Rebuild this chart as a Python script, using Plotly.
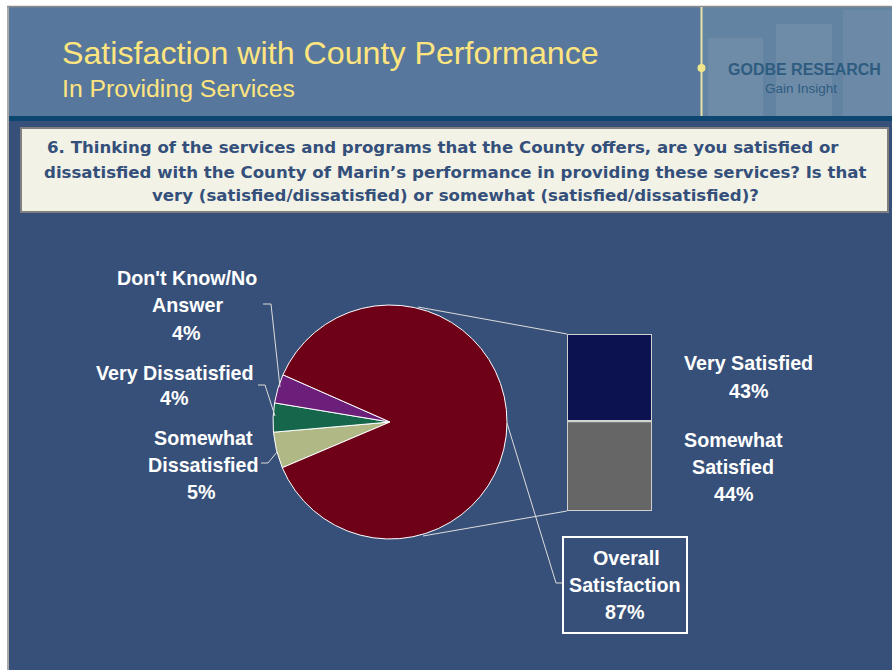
import plotly.graph_objects as go

W, H = 892, 670

# ---- data ----
pie_labels = ["Somewhat Dissatisfied", "Very Dissatisfied", "Don't Know/No Answer", "Overall Satisfaction"]
pie_values = [5, 4, 4, 87]
pie_colors = ["#B0B886", "#15664A", "#6B1F7B", "#6E0018"]

bar_labels = ["Somewhat Satisfied", "Very Satisfied"]
bar_values = [44, 43]
bar_colors = ["#666666", "#0B124F"]

title = "Satisfaction with County Performance"
subtitle = "In Providing Services"
question_lines = [
    "6. Thinking of the services and programs that the County offers, are you satisfied or",
    "dissatisfied with the County of Marin\u2019s performance in providing these services? Is that",
    "very (satisfied/dissatisfied) or somewhat (satisfied/dissatisfied)?",
]


def px(x):
    return x / W


def py(y):
    return 1 - y / H


FONT = "Liberation Sans, Arial, sans-serif"
QFONT = "DejaVu Sans, Verdana, sans-serif"

fig = go.Figure()

# pie
cx, cy, r = 390, 422, 117
fig.add_trace(go.Pie(
    labels=pie_labels, values=pie_values, sort=False, direction="clockwise",
    rotation=247, textinfo="none", hoverinfo="label+percent",
    marker=dict(colors=pie_colors, line=dict(color="white", width=1)),
    domain=dict(x=[px(cx - r), px(cx + r)], y=[py(cy + r), py(cy - r)]),
    showlegend=False,
))

# stacked bar
for lab, val, col in zip(bar_labels, bar_values, bar_colors):
    fig.add_trace(go.Bar(
        x=["Overall"], y=[val], name=lab, width=1, cliponaxis=False,
        marker=dict(color=col, line=dict(color="#D6D6D6", width=1.5)),
        showlegend=False, hoverinfo="name+y",
    ))

shapes = []


def rect(x0, y0, x1, y1, fill, line=None, lw=0, layer="below"):
    d = dict(type="rect", xref="paper", yref="paper", x0=px(x0), x1=px(x1),
             y0=py(y0), y1=py(y1), fillcolor=fill, layer=layer,
             line=dict(width=lw, color=line or "rgba(0,0,0,0)"))
    shapes.append(d)


def seg(pts, color="#DCDCDC", w=1, layer="above"):
    for (x0, y0), (x1, y1) in zip(pts[:-1], pts[1:]):
        shapes.append(dict(type="line", xref="paper", yref="paper",
                           x0=px(x0), y0=py(y0), x1=px(x1), y1=py(y1),
                           line=dict(color=color, width=w), layer=layer))


# backgrounds
rect(9, 7, W, 116, "#57789C")
rect(702, 7, W, 116, "#6383A2")
rect(708, 38, 763, 116, "rgba(255,255,255,0.07)")
rect(776, 24, 832, 116, "rgba(255,255,255,0.07)")
rect(843, 10, W, 116, "rgba(255,255,255,0.06)")
rect(9, 116, W, 121, "#0E4672")
rect(9, 121, W, H, "#375079")
seg([(7, 6.5), (W, 6.5)], color="#8C8C8C", w=1.5, layer="below")
seg([(8, 6), (8, H)], color="#8C8C8C", w=1.5, layer="below")
seg([(701.5, 7), (701.5, 116)], color="#E6E1A6", w=2, layer="below")
shapes.append(dict(type="circle", xref="paper", yref="paper", x0=px(697.5), x1=px(705.5),
                   y0=py(72), y1=py(64), fillcolor="#F2E68A", line=dict(width=0), layer="below"))
# question box
rect(21, 128, 888, 212, "#F2F2E6", line="#7F7F7F", lw=2)

# bar outline (axis-referenced, derived from the data)
shapes.append(dict(type="rect", xref="x", yref="y", x0=-0.5, x1=0.5, y0=0, y1=sum(bar_values),
                   line=dict(color="#D0D0D0", width=2), fillcolor="rgba(0,0,0,0)", layer="above"))
shapes.append(dict(type="line", xref="x", yref="y", x0=-0.5, x1=0.5, y0=bar_values[0], y1=bar_values[0],
                   line=dict(color="#D0D0D0", width=1.5), layer="above"))

# leader lines pie -> bar
seg([(418, 307), (567, 334)])
seg([(423, 536), (567, 511)])
# pie -> overall box
seg([(507, 423), (556, 583), (563, 583)])
# left labels
seg([(263, 304), (271, 304), (280, 387)])
seg([(258, 385), (265, 385), (275, 416)])
seg([(261, 463), (268, 463), (277, 452)])
# overall box
rect(563, 537, 687, 633, "rgba(0,0,0,0)", line="white", lw=2, layer="above")

annotations = []


def txt(x, y, s, size=19.7, color="white", bold=True, anchor="center", family=FONT):
    annotations.append(dict(x=px(x), y=py(y), xref="paper", yref="paper", text=s,
                            showarrow=False, xanchor=anchor, yanchor="middle",
                            font=dict(size=size, color=color, family=family,
                                      weight="bold" if bold else "normal")))


txt(60, 53, title, size=32.2, color="#FFE57F", bold=False, anchor="left")
txt(60, 88, subtitle, size=24.8, color="#FFE57F", bold=False, anchor="left")
txt(804, 70, "GODBE RESEARCH", size=16, color="#2E5C80", bold=True)
txt(801, 88, "Gain Insight", size=13.5, color="#2E5C80", bold=False)

for s, x, y in zip(question_lines, [443, 455, 455], [147, 172, 195]):
    txt(x, y, s, size=16.6, color="#34507A", family=QFONT)

# pie labels
txt(187, 278, "Don't Know/No")
txt(187, 305, "Answer")
txt(186, 333, f"{pie_values[2]}%")
txt(175, 373, "Very Dissatisfied")
txt(174, 398, f"{pie_values[1]}%")
txt(203, 438, "Somewhat")
txt(203, 465, "Dissatisfied")
txt(201, 492, f"{pie_values[0]}%")

# bar labels
txt(748, 363, "Very Satisfied")
txt(748, 391, f"{bar_values[1]}%")
txt(733, 440, "Somewhat")
txt(733, 467, "Satisfied")
txt(733, 494, f"{bar_values[0]}%")

# overall
txt(626, 558, "Overall")
txt(625, 585, "Satisfaction")
txt(624, 612, f"{sum(bar_values)}%")

fig.update_layout(
    width=W, height=H, margin=dict(l=0, r=0, t=0, b=0),
    paper_bgcolor="white", plot_bgcolor="rgba(0,0,0,0)",
    barmode="stack", bargap=0,
    xaxis=dict(domain=[px(567), px(652)], range=[-0.5, 0.5], visible=False, fixedrange=True),
    yaxis=dict(domain=[py(511), py(334)], range=[0, sum(bar_values)], visible=False, fixedrange=True),
    shapes=shapes, annotations=annotations,
)

fig.write_html("out.html", config={"displayModeBar": False},
               post_script="document.body.style.margin='0';")
